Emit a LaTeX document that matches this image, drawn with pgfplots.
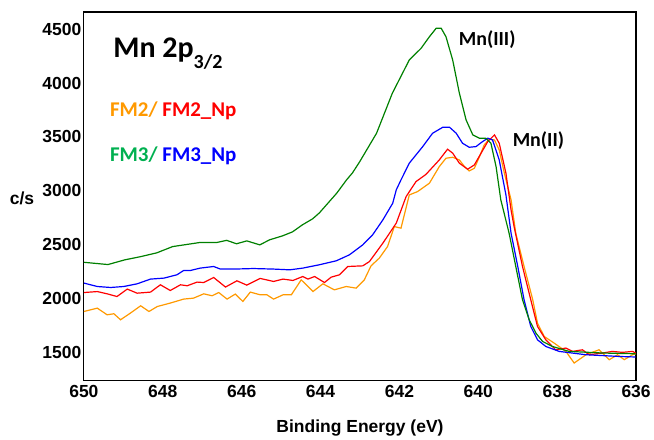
\documentclass[border=0pt]{standalone}
\usepackage{fontspec}
\setmainfont{Liberation Sans}
\newfontfamily\calib{Carlito}
\usepackage{pgfplots}
\pgfplotsset{compat=1.18}
\definecolor{cgreen}{RGB}{0,128,0}
\definecolor{corange}{RGB}{255,153,0}
\definecolor{lgreen}{RGB}{0,176,80}
\definecolor{cblue}{RGB}{0,0,255}
\definecolor{cred}{RGB}{255,0,0}
\begin{document}
\begin{tikzpicture}[x=1pt,y=1pt]
\begin{axis}[at={(0,0)},anchor=south west,scale only axis,
  width=553pt,height=369pt,
  x dir=reverse,xmin=636,xmax=650,ymin=1236,ymax=4660,
  xtick={636,638,...,650},ytick={1500,2000,...,4500},
  major tick length=0pt,
  axis line style={line width=1.2pt},
  /pgf/number format/assume math mode=true,
  /pgf/number format/1000 sep={},
  tick label style={font=\bfseries\fontsize{17.5}{17.5}\selectfont},
  xticklabel style={yshift=-1pt},
  yticklabel style={xshift=1pt},
  xlabel={Binding Energy (eV)},
  xlabel style={font=\bfseries\fontsize{17.5}{17.5}\selectfont,at={(rel axis cs:0.5,-0.13)},anchor=center},
  every axis plot/.append style={line width=1.2pt},
  clip=true]
% FM2 orange
\addplot[corange] coordinates {
(650.00,1877)(649.66,1908)(649.41,1846)(649.24,1856)(649.07,1800)(648.82,1862)(648.56,1930)(648.35,1877)(648.14,1923)(647.81,1955)(647.47,1992)(647.22,2001)(646.96,2041)(646.75,2023)(646.58,2053)(646.37,1992)(646.16,2039)(645.97,1970)(645.78,2057)(645.53,2032)(645.36,2032)(645.19,1992)(644.95,2032)(644.74,2032)(644.49,2171)(644.19,2063)(643.94,2134)(643.65,2078)(643.35,2109)(643.10,2094)(642.89,2171)(642.72,2301)(642.51,2373)(642.30,2481)(642.13,2666)(641.96,2651)(641.75,2960)(641.54,2991)(641.24,3069)(640.99,3223)(640.82,3301)(640.65,3310)(640.48,3285)(640.35,3223)(640.23,3183)(640.10,3208)(639.97,3316)(639.85,3425)(639.72,3478)(639.59,3471)(639.47,3378)(639.34,3162)(639.17,2914)(639.05,2605)(638.84,2295)(638.62,1986)(638.50,1769)(638.33,1645)(638.08,1584)(637.78,1506)(637.57,1398)(637.27,1475)(636.94,1521)(636.68,1429)(636.47,1475)(636.30,1429)(636.09,1475)(636.01,1484)};
% FM2_Np red
\addplot[cred] coordinates {
(650.00,2053)(649.66,2062)(649.41,2041)(649.16,2016)(648.90,2085)(648.65,2047)(648.31,2057)(648.06,2125)(647.81,2072)(647.55,2125)(647.38,2116)(647.13,2150)(646.96,2146)(646.71,2193)(646.41,2104)(646.12,2162)(645.87,2122)(645.53,2184)(645.19,2156)(644.95,2178)(644.70,2165)(644.45,2202)(644.32,2178)(644.15,2202)(643.90,2146)(643.73,2196)(643.52,2218)(643.31,2295)(642.93,2301)(642.76,2341)(642.42,2512)(642.08,2698)(641.83,2945)(641.58,3084)(641.33,3150)(640.99,3285)(640.78,3385)(640.65,3348)(640.48,3255)(640.27,3199)(640.10,3239)(639.93,3348)(639.76,3456)(639.59,3518)(639.47,3440)(639.30,3162)(639.17,2821)(639.09,2660)(638.88,2295)(638.67,1986)(638.50,1738)(638.29,1614)(638.04,1521)(637.78,1537)(637.61,1506)(637.36,1521)(637.19,1475)(636.85,1491)(636.60,1506)(636.35,1497)(636.09,1506)(636.01,1490)};
% FM3_Np blue
\addplot[cblue] coordinates {
(650.00,2141)(649.66,2109)(649.32,2100)(648.99,2109)(648.65,2134)(648.31,2178)(647.97,2187)(647.64,2218)(647.47,2258)(647.30,2258)(647.05,2280)(646.71,2295)(646.54,2271)(646.20,2271)(645.70,2276)(645.19,2271)(644.78,2264)(644.45,2280)(644.03,2311)(643.60,2348)(643.27,2403)(642.93,2496)(642.68,2589)(642.42,2728)(642.17,2883)(642.08,3007)(641.96,3100)(641.75,3255)(641.41,3409)(641.16,3533)(640.90,3589)(640.73,3589)(640.56,3533)(640.40,3440)(640.23,3403)(640.06,3409)(639.89,3456)(639.76,3487)(639.64,3471)(639.47,3285)(639.30,2960)(639.17,2605)(639.00,2295)(638.84,1986)(638.67,1738)(638.50,1614)(638.29,1552)(637.95,1506)(637.27,1475)(636.43,1459)(636.01,1454)};
% FM3 green
\addplot[cgreen] coordinates {
(650.00,2334)(649.39,2313)(648.96,2357)(648.58,2385)(648.15,2422)(647.75,2480)(647.06,2518)(646.63,2518)(646.38,2538)(646.13,2506)(645.87,2533)(645.54,2496)(645.29,2543)(644.96,2580)(644.71,2617)(644.46,2682)(644.20,2738)(644.03,2793)(643.59,2976)(643.34,3100)(643.19,3165)(643.01,3267)(642.58,3533)(642.18,3905)(641.75,4214)(641.45,4323)(641.24,4430)(641.07,4508)(640.94,4508)(640.82,4430)(640.65,4214)(640.48,3905)(640.31,3657)(640.14,3518)(639.97,3487)(639.81,3487)(639.68,3440)(639.55,3223)(639.43,2914)(639.22,2605)(639.05,2295)(638.88,1986)(638.71,1800)(638.54,1676)(638.37,1598)(638.12,1552)(637.70,1506)(636.85,1491)(636.01,1484)};
\end{axis}
\node[anchor=base west,font=\calib\bfseries\fontsize{30}{30}\selectfont] at (26,323) {Mn 2p\raisebox{-11pt}{\fontsize{20}{20}\selectfont 3/2}};
\node[anchor=base west,font=\calib\bfseries\fontsize{21}{21}\selectfont,inner sep=0pt] at (26,264.3) {\textcolor{corange}{FM2/} \textcolor{cred}{FM2\_Np}};
\node[anchor=base west,font=\calib\bfseries\fontsize{21}{21}\selectfont,inner sep=0pt] at (26,219.3) {\textcolor{lgreen}{FM3/} \textcolor{cblue}{FM3\_Np}};
\node[anchor=base west,font=\calib\bfseries\fontsize{20}{20}\selectfont,inner sep=0pt] at (375.3,335) {Mn(III)};
\node[anchor=base west,font=\calib\bfseries\fontsize{20}{20}\selectfont,inner sep=0pt] at (429.3,234.3) {Mn(II)};
\node[font=\bfseries\fontsize{17.5}{17.5}\selectfont] at (-62,182) {c/s};
\useasboundingbox (-84,-58) rectangle (570,381);
\end{tikzpicture}
\end{document}
